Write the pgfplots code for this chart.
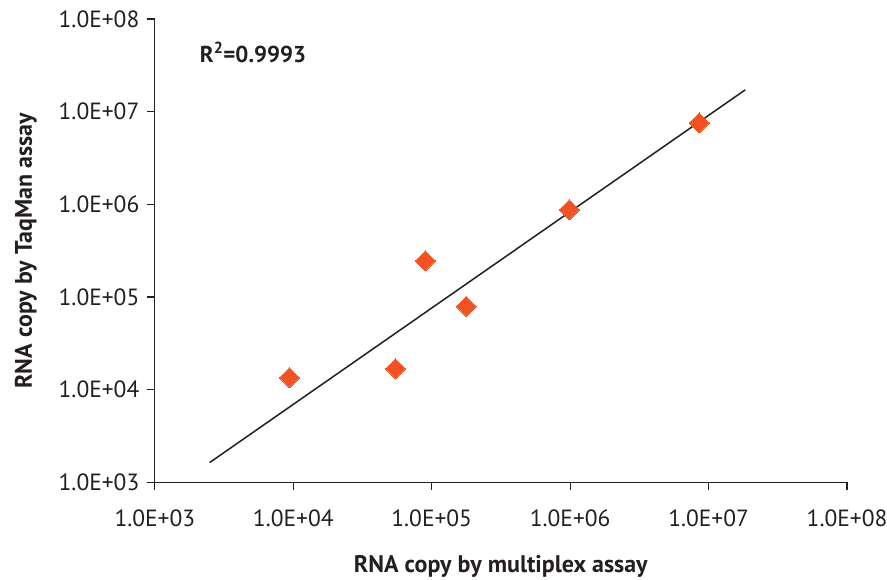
\documentclass[border=0pt]{standalone}
\usepackage{pgfplots}
\pgfplotsset{compat=1.18}
\usepackage{fontspec}
\setmainfont{PT Sans}
\definecolor{pt}{RGB}{241,82,36}
\definecolor{ink}{RGB}{35,31,32}
\begin{document}
\begin{tikzpicture}
\useasboundingbox (-155pt,-97pt) rectangle (733pt,483pt);
\begin{axis}[
  scale only axis,
  width=693pt, height=464pt,
  xmode=log, ymode=log,
  xmin=1e3, xmax=1e8, ymin=1e3, ymax=1e8,
  axis x line*=bottom, axis y line*=left,
  axis line style={-, line width=1.3pt, ink},
  xtick={1e3,1e4,1e5,1e6,1e7,1e8},
  ytick={1e3,1e4,1e5,1e6,1e7,1e8},
  xticklabels={1.0E+03,1.0E+04,1.0E+05,1.0E+06,1.0E+07,1.0E+08},
  yticklabels={1.0E+03,1.0E+04,1.0E+05,1.0E+06,1.0E+07,1.0E+08},
  xminorticks=false, yminorticks=false,
  tick align=outside, major tick length=8pt,
  every tick/.style={line width=1.3pt, ink},
  tick label style={font=\fontsize{23.5}{26}\selectfont, text=ink},
  xticklabel style={yshift=-16pt},
  yticklabel style={xshift=-4pt},
  xlabel={\textbf{RNA copy by multiplex assay}},
  ylabel={\textbf{RNA copy by TaqMan assay}},
  label style={font=\fontsize{24}{26}\selectfont, text=ink},
  xlabel style={yshift=-22pt},
  ylabel style={yshift=15pt},
  clip=false,
]
\addplot[ink, line width=1.5pt] coordinates {(2.49e3,1.64e3) (1.84e7,1.72e7)};
\addplot[only marks, mark=square*, mark size=7.07pt, mark options={rotate=45, fill=pt, draw=pt, line width=0pt}] coordinates {
(9.4e3,1.35e4)
(5.48e4,1.69e4)
(9.0e4,2.47e5)
(1.78e5,7.9e4)
(9.87e5,8.75e5)
(8.55e6,7.57e6)
};
\node[anchor=west, font=\fontsize{23}{26}\selectfont\bfseries, text=ink, inner sep=0pt] at (axis cs:2.11e3,4.4e7) {R\textsuperscript{2}=0.9993};
\end{axis}
\end{tikzpicture}
\end{document}
